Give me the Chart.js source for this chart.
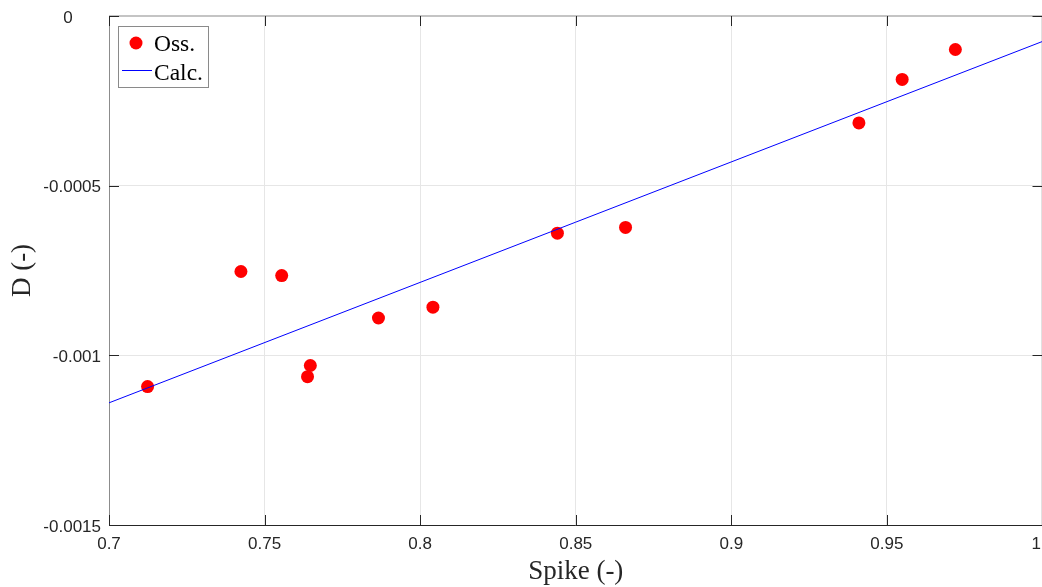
<!DOCTYPE html>
<html><head><meta charset="utf-8">
<script src="https://cdn.jsdelivr.net/npm/chart.js@4.4.0/dist/chart.umd.min.js"></script>
<style>html,body{margin:0;padding:0;background:#fff;overflow:hidden;width:1042px;height:587px}canvas{display:block}</style>
</head><body>
<canvas id="c" width="1049" height="587"></canvas>
<script>
// ---- data ----
const spikeObs = [0.7124, 0.7424, 0.7555, 0.7638, 0.7647, 0.7866, 0.8041, 0.8441, 0.8660, 0.9410, 0.9549, 0.9720];
const dObs = [-0.001092, -0.000753, -0.000765, -0.001063, -0.001030, -0.000890, -0.000858, -0.000640, -0.000623, -0.000315, -0.000187, -0.0000988];
const spikeCalc = [0.7, 1.0];
const dCalc = [-0.00114, -0.000075];
const xTickValues = [0.7, 0.75, 0.8, 0.85, 0.9, 0.95, 1];
const xTickLabels = ['0.7', '0.75', '0.8', '0.85', '0.9', '0.95', '1'];
const yTickValues = [-0.0015, -0.001, -0.0005, 0];
const yTickLabels = ['-0.0015', '-0.001', '-0.0005', '0'];
const seriesNames = ['Oss.', 'Calc.'];
const xTitle = 'Spike (-)';
const yTitle = 'D (-)';

// ---- styling ----
const TICK_FONT = '17px "Liberation Sans", Arial, sans-serif';
const SERIF = '"Liberation Serif", "Times New Roman", serif';
const INK = '#262626';
const VIEW_W = 1042;

const matlabAxes = {
  id: 'matlabAxes',
  beforeDatasetsDraw(chart) {
    const {ctx, chartArea: a, scales: {x, y}} = chart;
    ctx.save();
    // box
    ctx.lineWidth = 2; ctx.strokeStyle = '#c4c4c4';
    ctx.beginPath(); ctx.moveTo(a.left, a.top); ctx.lineTo(a.right, a.top); ctx.stroke();
    ctx.beginPath(); ctx.moveTo(a.right, a.top); ctx.lineTo(a.right, a.bottom); ctx.stroke();
    ctx.lineWidth = 1; ctx.strokeStyle = '#8c8c8c';
    ctx.beginPath(); ctx.moveTo(a.left + 0.5, a.top); ctx.lineTo(a.left + 0.5, a.bottom); ctx.stroke();
    ctx.strokeStyle = INK;
    ctx.beginPath(); ctx.moveTo(a.left, a.bottom + 0.5); ctx.lineTo(a.right, a.bottom + 0.5); ctx.stroke();
    // inward ticks
    const TL = 10;
    ctx.beginPath();
    xTickValues.forEach(v => {
      const px = Math.round(x.getPixelForValue(v)) + 0.5;
      ctx.moveTo(px, a.bottom); ctx.lineTo(px, a.bottom - TL);
      ctx.moveTo(px, a.top); ctx.lineTo(px, a.top + TL);
    });
    yTickValues.forEach(v => {
      const py = Math.round(y.getPixelForValue(v)) + 0.5;
      ctx.moveTo(a.left, py); ctx.lineTo(a.left + TL, py);
      ctx.moveTo(a.right, py); ctx.lineTo(a.right - TL, py);
    });
    ctx.stroke();
    ctx.restore();
  },
  afterDraw(chart) {
    const {ctx, chartArea: a, scales: {x, y}} = chart;
    const ds = chart.data.datasets;
    ctx.save();
    // tick labels
    ctx.font = TICK_FONT; ctx.fillStyle = INK;
    ctx.textAlign = 'center'; ctx.textBaseline = 'alphabetic';
    xTickValues.forEach((v, i) => {
      const w = ctx.measureText(xTickLabels[i]).width;
      let px = x.getPixelForValue(v);
      px = Math.min(px, VIEW_W - w / 2 - 1);
      ctx.fillText(xTickLabels[i], px, a.bottom + 24);
    });
    ctx.textAlign = 'right'; ctx.textBaseline = 'middle';
    yTickValues.forEach((v, i) => {
      let s = yTickLabels[i];
      if (v === 0) s = s + '\u2007\u2007\u2007';
      ctx.fillText(s, a.left - 8, y.getPixelForValue(v) + 2);
    });
    // legend
    const lx = a.left + 9, ly = a.top + 10, lw = 90, lh = 61;
    ctx.fillStyle = '#fff'; ctx.fillRect(lx, ly, lw, lh);
    ctx.strokeStyle = '#8a8a8a'; ctx.lineWidth = 1;
    ctx.strokeRect(lx + 0.5, ly + 0.5, lw, lh);
    ctx.fillStyle = ds[0].backgroundColor;
    ctx.beginPath(); ctx.arc(lx + 18, ly + 17, 6.5, 0, Math.PI * 2); ctx.fill();
    ctx.strokeStyle = ds[1].borderColor; ctx.lineWidth = 1;
    ctx.beginPath(); ctx.moveTo(lx + 4, ly + 44.5); ctx.lineTo(lx + 34, ly + 44.5); ctx.stroke();
    ctx.font = '23.5px ' + SERIF; ctx.fillStyle = '#000';
    ctx.textAlign = 'left'; ctx.textBaseline = 'alphabetic';
    ctx.fillText(seriesNames[0], lx + 36, ly + 25);
    ctx.fillText(seriesNames[1], lx + 36, ly + 54);
    ctx.restore();
  }
};

new Chart(document.getElementById('c'), {
  type: 'scatter',
  data: {
    datasets: [
      {
        label: seriesNames[0],
        data: spikeObs.map((v, i) => ({x: v, y: dObs[i]})),
        backgroundColor: '#ff0000', borderWidth: 0, pointRadius: 6.5, pointHoverRadius: 6.5,
        order: 1
      },
      {
        label: seriesNames[1],
        data: spikeCalc.map((v, i) => ({x: v, y: dCalc[i]})),
        showLine: true, borderColor: '#0000ff', borderWidth: 1, pointRadius: 0,
        backgroundColor: '#0000ff', order: 0
      }
    ]
  },
  options: {
    responsive: false, animation: false, devicePixelRatio: 1,
    layout: {padding: {top: 16, right: 4, left: 0, bottom: 0}},
    plugins: {legend: {display: false}, tooltip: {enabled: false}},
    scales: {
      x: {
        type: 'linear', min: 0.7, max: 1,
        afterBuildTicks: s => { s.ticks = xTickValues.map(v => ({value: v})); },
        afterFit: s => { s.height = 62; },
        ticks: {display: false},
        grid: {color: '#e6e6e6', drawTicks: false, lineWidth: 1},
        border: {display: false},
        title: {display: true, text: xTitle, color: INK,
          font: {family: SERIF, size: 27, lineHeight: 1.1}, padding: {top: 0, bottom: 0}}
      },
      y: {
        type: 'linear', min: -0.0015, max: 0,
        afterBuildTicks: s => { s.ticks = yTickValues.map(v => ({value: v})); },
        afterFit: s => { s.width = 109; },
        ticks: {display: false},
        grid: {color: '#e6e6e6', drawTicks: false, lineWidth: 1},
        border: {display: false},
        title: {display: true, text: yTitle, color: INK,
          font: {family: SERIF, size: 27, lineHeight: 1.1}, padding: {top: 8, bottom: 0}}
      }
    }
  },
  plugins: [matlabAxes]
});
</script>
</body></html>
